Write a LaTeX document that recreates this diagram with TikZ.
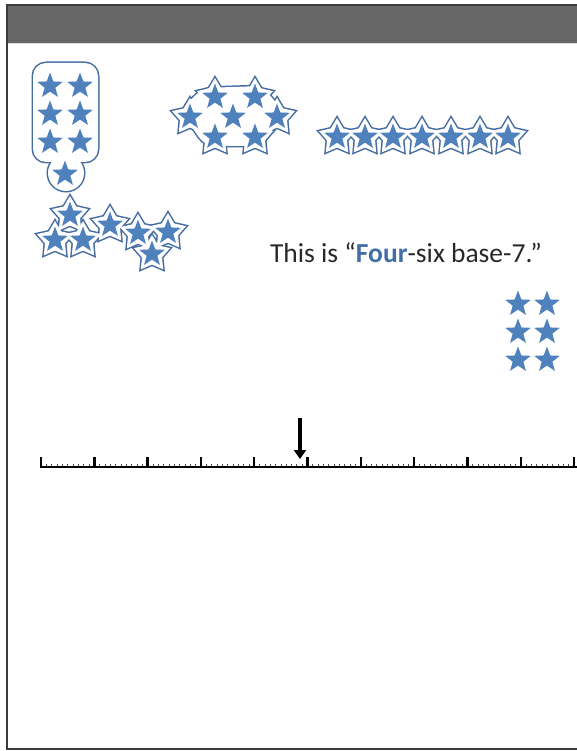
\documentclass[tikz,border=0pt]{standalone}
\usepackage{fontspec}
\setmainfont{Carlito}
\usetikzlibrary{positioning, calc, shapes.geometric, arrows.meta}
\definecolor{starblue}{RGB}{79,129,189}
\definecolor{rimblue}{RGB}{70,108,160}
\definecolor{headgray}{RGB}{103,103,103}
\definecolor{framegray}{RGB}{60,60,60}
\definecolor{saygray}{RGB}{40,40,40}
\tikzset{
  every node/.style={inner sep=0pt},
  bluestar/.style={star, star points=5, star point ratio=2.4, fill=starblue, draw=none, minimum size=27pt},
  rimstar/.style={star, star points=5, star point ratio=1.8, minimum size=38pt, draw=rimblue, line width=3pt},
  rimfill/.style={star, star points=5, star point ratio=1.8, minimum size=38pt, fill=white, draw=none},
  rimline/.style={draw=rimblue, line width=3pt},
  saytext/.style={font=\fontsize{27.5}{32}\selectfont, text=saygray, anchor=base},
  axis/.style={draw=black, line width=2.2pt},
  major/.style={draw=black, line width=2.4pt},
  minor/.style={draw=black!70, line width=0.7pt},
  pointer/.style={draw=black, line width=3.6pt, -{Triangle[width=12pt,length=9pt]}},
}

\begin{document}
\begin{tikzpicture}[x=1pt, y=-1pt]
  \useasboundingbox (0,0) rectangle (577,751);
  \clip (0,0) rectangle (577,751);

  % ---- slide frame and header ----------------------------------------------
  \fill[headgray] (7,5) rectangle (600,43);
  \draw[black!15, line width=1.5pt] (7,43.5) -- (600,43.5);
  \draw[framegray, line width=2pt] (7,5) rectangle (600,749);

  % ---- group 1: eight stars in a bag ---------------------------------------
  \draw[rimline, rounded corners=13pt] (33,110) -- (33,162) -- (98,162) -- (98,63) -- (33,63) -- cycle;
  \draw[rimline] (66,173) circle (18);
  \fill[white, rounded corners=13pt] (33,110) -- (33,162) -- (98,162) -- (98,63) -- (33,63) -- cycle;
  \fill[white] (66,173) circle (18);
  \foreach \x/\y [count=\i] in {50/86, 80/86, 50/114, 80/114, 50/142, 80/142, 65/174}
    \node[bluestar] (a\i) at (\x,\y) {};

  % ---- group 2: seven stars in a blob --------------------------------------
  \draw[rimline, rounded corners=10pt] (180,110) -- (203,88) -- (262,86) -- (284,112) -- (262,146) -- (205,146) -- cycle;
  \foreach \x/\y [count=\i] in {215/97, 255/97, 190/117, 233/117, 277/117, 215/137, 255/137}
    \node[rimstar] (bo\i) at (\x,\y) {};
  \fill[white, rounded corners=10pt] (180,110) -- (203,88) -- (262,86) -- (284,112) -- (262,146) -- (205,146) -- cycle;
  \foreach \x/\y [count=\i] in {215/97, 255/97, 190/117, 233/117, 277/117, 215/137, 255/137}
    \node[rimfill] (bf\i) at (\x,\y) {};
  \foreach \x/\y [count=\i] in {215/97, 255/97, 190/117, 233/117, 277/117, 215/137, 255/137}
    \node[bluestar] (b\i) at (\x,\y) {};

  % ---- group 3: seven stars in a row ---------------------------------------
  \foreach \x [count=\i] in {337,365,393,422,451,480,508}
    \node[rimstar] (co\i) at (\x,137) {};
  \foreach \x [count=\i] in {337,365,393,422,451,480,508}
    \node[rimfill] (cf\i) at (\x,137) {};
  \foreach \x [count=\i] in {337,365,393,422,451,480,508}
    \node[bluestar] (c\i) at (\x,137) {};

  % ---- group 4: seven stars in a chain -------------------------------------
  \foreach \x/\y [count=\i] in {70/215, 55/240, 83/240, 110/225, 138/233, 168/232, 152/254}
    \node[rimstar] (do\i) at (\x,\y) {};
  \foreach \x/\y [count=\i] in {70/215, 55/240, 83/240, 110/225, 138/233, 168/232, 152/254}
    \node[rimfill] (df\i) at (\x,\y) {};
  \foreach \x/\y [count=\i] in {70/215, 55/240, 83/240, 110/225, 138/233, 168/232, 152/254}
    \node[bluestar] (d\i) at (\x,\y) {};

  % ---- six loose stars -----------------------------------------------------
  \foreach \x/\y [count=\i] in {518/304, 547/304, 518/332, 547/332, 518/360, 547/360}
    \node[bluestar] (e\i) at (\x,\y) {};

  % ---- caption -------------------------------------------------------------
  \node[saytext] (say) at (406,262) {This is “\textcolor{starblue!85!black}{\textbf{Four}}-six base-7.”};

  % ---- number line ---------------------------------------------------------
  \coordinate (nlstart) at (40,467);
  \coordinate (nlend) at (580,467);
  \foreach \k in {1,...,101} \draw[minor] ({41+5.33*\k},467) -- ++(0,-3.5);
  \foreach \k in {0,...,10} \draw[major] ({41+53.3*\k},467) -- ++(0,-10);
  \draw[axis] (nlstart) -- (nlend);

  % ---- pointer -------------------------------------------------------------
  \coordinate (ptop) at (300,418);
  \coordinate (ptip) at (300,459);
  \draw[pointer] (ptop) -- (ptip);
\end{tikzpicture}
\end{document}
